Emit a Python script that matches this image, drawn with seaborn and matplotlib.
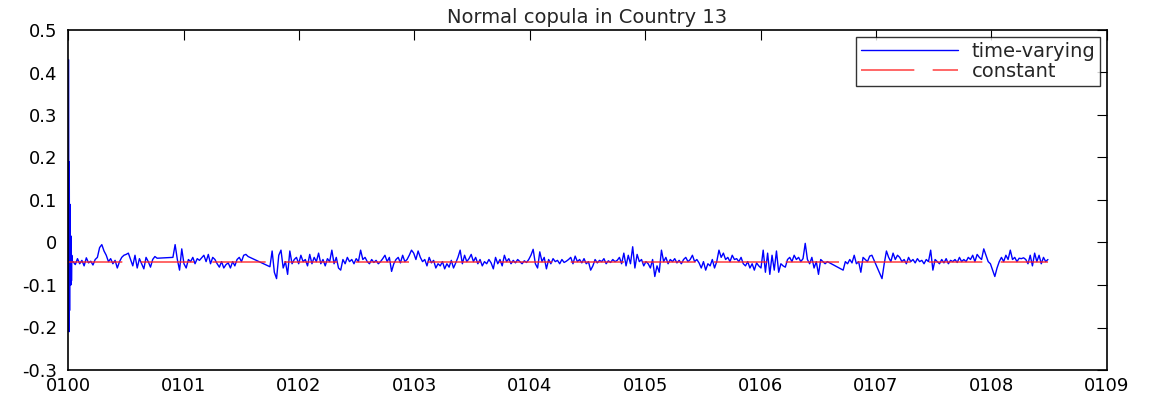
import matplotlib
matplotlib.use("Agg")
import numpy as np
import pandas as pd
import seaborn as sns
import matplotlib.pyplot as plt
import matplotlib.dates as mdates

# ---------------- data ----------------
title = "Normal copula in Country 13"
series_names = ["time-varying", "constant"]
constant_value = -0.047

# opening business days (start-up oscillation of the filter)
spike_start = "2000-01-03"
spike_vals = [0.43, -0.21, 0.19, -0.16, 0.09, -0.10, 0.015, -0.09, -0.03, -0.045]

# weekly observations, segment by segment (gaps between segments)
seg_a_start = "2000-01-17"
seg_a = [-0.045, -0.052, -0.038, -0.05, -0.042, -0.055, -0.036, -0.048, -0.044, -0.053, -0.04, -0.035,
         -0.012, -0.005, -0.02,
         -0.03, -0.045, -0.038, -0.05, -0.042, -0.06,
         -0.045, -0.035, -0.03, -0.028, -0.025,
         -0.04, -0.055, -0.03, -0.06, -0.038, -0.05, -0.062, -0.035, -0.045, -0.058, -0.04, -0.033, -0.037]

seg_b_start = "2000-11-28"
seg_b = [-0.035, -0.005, -0.04, -0.065, -0.015, -0.05, -0.06,
         -0.04, -0.045, -0.035, -0.05, -0.038, -0.042, -0.036,
         -0.03, -0.045, -0.028, -0.05, -0.035, -0.04,
         -0.05, -0.058, -0.045, -0.06, -0.052, -0.048, -0.06, -0.045, -0.055,
         -0.04, -0.035, -0.045, -0.03, -0.028, -0.033]

seg_c_start = "2001-10-01"
seg_c = [-0.057, -0.02, -0.07, -0.085, -0.03, -0.018, -0.06, -0.045, -0.075, -0.02, -0.05, -0.04,
         -0.035, -0.05, -0.03, -0.045, -0.04, -0.055, -0.028, -0.05, -0.035, -0.045, -0.025, -0.05, -0.04, -0.055, -0.038,
         -0.045, -0.018, -0.05, -0.035, -0.06, -0.065, -0.04, -0.05, -0.035, -0.045, -0.04, -0.05, -0.038, -0.045,
         -0.018, -0.04, -0.035, -0.045, -0.05, -0.04, -0.047, -0.042, -0.05, -0.045, -0.038, -0.03, -0.045, -0.035,
         -0.068, -0.05, -0.04, -0.035, -0.048, -0.03, -0.045, -0.04, -0.03, -0.018, -0.025, -0.04, -0.02, -0.035, -0.045,
         -0.04, -0.055, -0.035, -0.048, -0.042, -0.06, -0.05, -0.055, -0.045, -0.062, -0.05, -0.058, -0.042, -0.06, -0.048,
         -0.035, -0.018, -0.05, -0.03, -0.045, -0.038, -0.028, -0.045, -0.035, -0.05, -0.04, -0.055, -0.045, -0.05, -0.04, -0.048,
         -0.062, -0.035, -0.05, -0.04, -0.055, -0.03, -0.045, -0.038, -0.05, -0.042, -0.048, -0.04, -0.045, -0.05, -0.043, -0.047, -0.04,
         -0.03, -0.016, -0.05, -0.06, -0.022, -0.045, -0.035, -0.062, -0.04, -0.05, -0.038, -0.045, -0.042, -0.05, -0.04, -0.047, -0.044,
         -0.04, -0.035, -0.05, -0.032, -0.045, -0.04, -0.048, -0.038, -0.05, -0.045, -0.065, -0.055,
         -0.04, -0.048, -0.042, -0.045, -0.038, -0.05, -0.043, -0.047, -0.04, -0.045, -0.042,
         -0.035, -0.05, -0.025, -0.055, -0.03, -0.05, -0.01, -0.06, -0.028, -0.045,
         -0.04, -0.055, -0.045, -0.05, -0.06, -0.04, -0.08, -0.055, -0.07,
         -0.018, -0.045, -0.035, -0.05, -0.04, -0.045, -0.038, -0.048, -0.042, -0.05, -0.04, -0.035, -0.045, -0.04, -0.03, -0.045, -0.04, -0.048,
         -0.06, -0.045, -0.065, -0.05, -0.055, -0.04, -0.06, -0.045, -0.018, -0.035, -0.025, -0.04,
         -0.035, -0.045, -0.03, -0.04, -0.038, -0.045, -0.035, -0.05, -0.055, -0.045, -0.06, -0.05, -0.065, -0.048, -0.055, -0.06,
         -0.018, -0.07, -0.025, -0.075, -0.03, -0.065, -0.02, -0.07, -0.05, -0.055, -0.058,
         -0.04, -0.035, -0.045, -0.03, -0.04, -0.035, -0.045, -0.038, -0.002, -0.04,
         -0.05, -0.035, -0.06, -0.045, -0.075, -0.04, -0.045, -0.05, -0.045]

seg_d_start = "2006-09-19"
seg_d = [-0.065, -0.045, -0.05, -0.04, -0.048, -0.03, -0.05, -0.045, -0.07, -0.035, -0.04, -0.045, -0.032, -0.03]

seg_e_start = "2007-01-20"
seg_e = [-0.085, -0.05, -0.02, -0.035, -0.045, -0.025, -0.04, -0.03, -0.035,
         -0.045, -0.04, -0.05, -0.035, -0.045, -0.04, -0.048, -0.038, -0.045, -0.042, -0.05, -0.04, -0.045,
         -0.018, -0.065, -0.04,
         -0.045, -0.05, -0.04, -0.048, -0.038, -0.05, -0.042, -0.045, -0.04, -0.047, -0.035, -0.045, -0.04, -0.045,
         -0.035, -0.04, -0.03, -0.045, -0.028, -0.035, -0.04, -0.015, -0.03,
         -0.045, -0.05, -0.065, -0.08, -0.06, -0.045,
         -0.035, -0.045, -0.03, -0.04, -0.018, -0.04, -0.035, -0.045,
         -0.037, -0.038, -0.036, -0.04,
         -0.05, -0.03, -0.055, -0.025, -0.045, -0.03, -0.05, -0.035, -0.045, -0.04]

ytick_vals = [-0.3, -0.2, -0.1, 0.0, 0.1, 0.2, 0.3, 0.4, 0.5]
x_start, x_end = "2000-01-01", "2009-01-01"

# ---------------- build table ----------------
parts = [(spike_start, "B", spike_vals), (seg_a_start, "7D", seg_a), (seg_b_start, "7D", seg_b),
         (seg_c_start, "7D", seg_c), (seg_d_start, "7D", seg_d), (seg_e_start, "7D", seg_e)]
frames = []
for start, freq, vals in parts:
    frames.append(pd.DataFrame({"date": pd.date_range(start, periods=len(vals), freq=freq),
                                "value": vals}))
df = pd.concat(frames, ignore_index=True)
df_const = pd.DataFrame({"date": df["date"], "value": constant_value})

# ---------------- plot ----------------
sns.set_style("white")
plt.rcParams["font.family"] = ["DejaVu Sans"]
plt.rcParams["axes.unicode_minus"] = False

fig = plt.figure(figsize=(11.53, 3.99), dpi=100)
ax = fig.add_axes([68 / 1153, 1 - 370 / 399, (1107 - 68) / 1153, (370 - 30) / 399])

sns.lineplot(data=df, x="date", y="value", color="#0000ff", linewidth=1.0,
             estimator=None, ax=ax, label=series_names[0], zorder=2)
sns.lineplot(data=df_const, x="date", y="value", color="#ff2020", linewidth=1.2,
             estimator=None, ax=ax, label=series_names[1], zorder=3, alpha=0.8)
ax.lines[-1].set_dashes((32, 11))

ax.set_xlim(pd.Timestamp(x_start), pd.Timestamp(x_end))
ax.set_ylim(ytick_vals[0], ytick_vals[-1])
ax.xaxis.set_major_locator(mdates.YearLocator())
ax.xaxis.set_major_formatter(mdates.DateFormatter("%m%y"))
ax.set_yticks(ytick_vals)
ax.set_yticklabels([f"{v:g}" for v in ytick_vals])
ax.set_xlabel("")
ax.set_ylabel("")

ax.tick_params(axis="both", direction="in", length=7, width=0.8, colors="black",
               top=True, right=True, labelsize=13)
ax.tick_params(axis="x", pad=5)
ax.tick_params(axis="y", pad=8)
for s in ax.spines.values():
    s.set_visible(True)
    s.set_color("black")
    s.set_linewidth(1.2)

ax.set_title(title, fontsize=14, pad=5)

leg = ax.legend(loc="upper right", handlelength=5.0, fontsize=14, frameon=True,
                fancybox=False, edgecolor="black", borderaxespad=0.35,
                borderpad=0.25, labelspacing=0.05, handletextpad=0.7)
leg.get_frame().set_linewidth(1.0)

fig.savefig("out.png", dpi=100)
